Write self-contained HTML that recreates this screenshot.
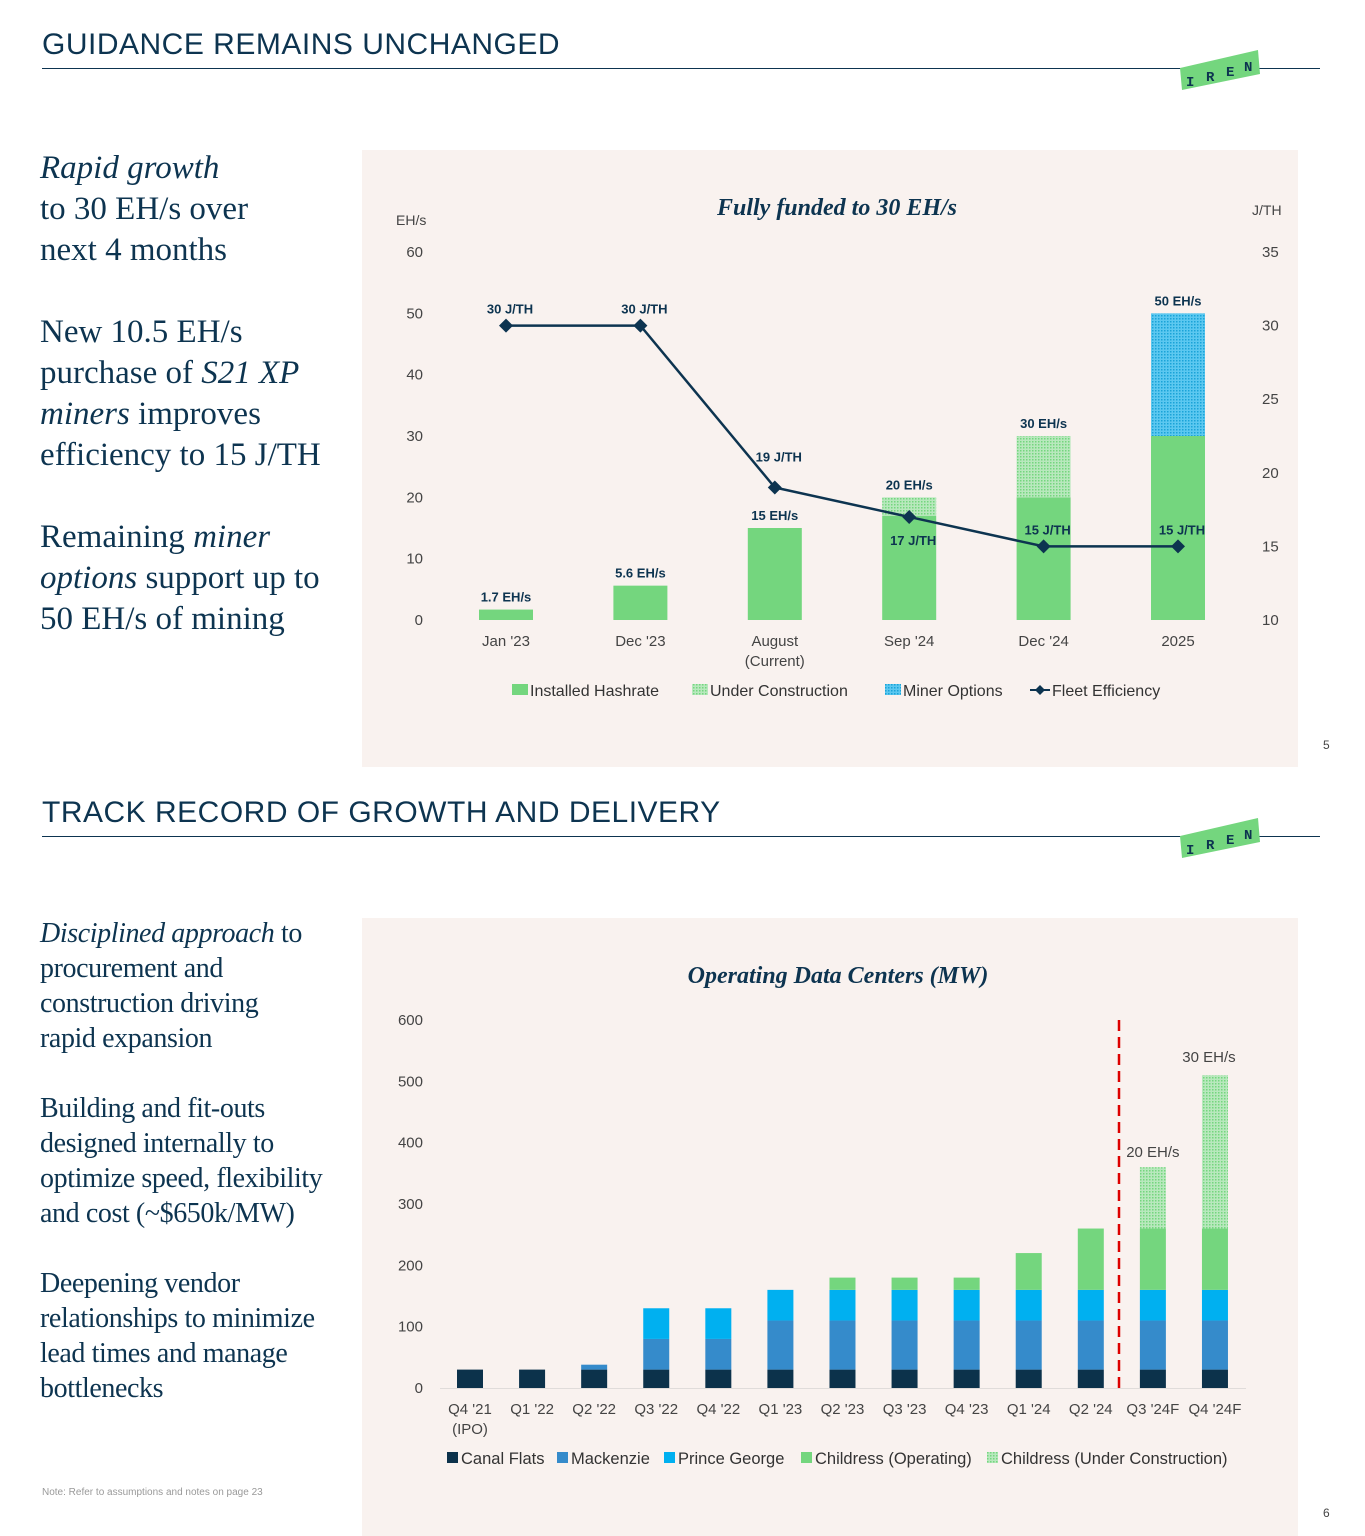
<!DOCTYPE html>
<html><head><meta charset="utf-8"><style>
body{margin:0;width:1365px;height:1536px;background:#fff;position:relative;overflow:hidden;font-family:"Liberation Sans",sans-serif}
.t{position:absolute;left:42px;font-size:30px;color:#0d3450;letter-spacing:0.5px}
.rule{position:absolute;left:42px;width:1278px;height:1px;background:#0d3450}
.panel{position:absolute;left:362px;width:936px;background:#f9f2ef}
.side{position:absolute;left:40px;font-family:"Liberation Serif",serif;color:#0d3450}
.pg{position:absolute;left:1323px;font-size:12px;color:#444}
</style></head><body>
<div class="t" style="top:28px">GUIDANCE REMAINS UNCHANGED</div>
<div class="rule" style="top:68px"></div>
<svg style="position:absolute;left:1178px;top:48px" width="84" height="44"><polygon points="2,20 80,2 82,26 4,42" fill="#74d67e"/><text x="8" y="38" font-size="14" font-weight="bold" fill="#0d3450" font-family="Liberation Mono">I</text><text x="28" y="33" font-size="14" font-weight="bold" fill="#0d3450" font-family="Liberation Mono">R</text><text x="48" y="28" font-size="14" font-weight="bold" fill="#0d3450" font-family="Liberation Mono">E</text><text x="66" y="23" font-size="14" font-weight="bold" fill="#0d3450" font-family="Liberation Mono">N</text></svg>
<div class="side" style="top:148px;font-size:33px;line-height:41px;width:320px">
<i>Rapid growth</i><br>to 30 EH/s over<br>next 4 months<br><br style="line-height:30px">New 10.5 EH/s<br>purchase of <i>S21 XP miners</i> improves efficiency to 15 J/TH<br><br style="line-height:30px">Remaining <i>miner options</i> support up to 50 EH/s of mining</div>
<div class="panel" style="top:150px;height:617px"></div>
<svg id="c1" style="position:absolute;left:0;top:0" width="1365" height="770"></svg>
<div class="pg" style="top:738px">5</div>

<div class="t" style="top:796px">TRACK RECORD OF GROWTH AND DELIVERY</div>
<div class="rule" style="top:836px"></div>
<svg style="position:absolute;left:1178px;top:816px" width="84" height="44"><polygon points="2,20 80,2 82,26 4,42" fill="#74d67e"/><text x="8" y="38" font-size="14" font-weight="bold" fill="#0d3450" font-family="Liberation Mono">I</text><text x="28" y="33" font-size="14" font-weight="bold" fill="#0d3450" font-family="Liberation Mono">R</text><text x="48" y="28" font-size="14" font-weight="bold" fill="#0d3450" font-family="Liberation Mono">E</text><text x="66" y="23" font-size="14" font-weight="bold" fill="#0d3450" font-family="Liberation Mono">N</text></svg>
<div class="side" style="top:916px;font-size:28px;line-height:35px;white-space:nowrap;letter-spacing:-0.4px">
<i>Disciplined approach</i> to<br>procurement and<br>construction driving<br>rapid expansion<br><br style="line-height:35px">Building and fit-outs<br>designed internally to<br>optimize speed, flexibility<br>and cost (~$650k/MW)<br><br style="line-height:35px">Deepening vendor<br>relationships to minimize<br>lead times and manage<br>bottlenecks</div>
<div style="position:absolute;left:42px;top:1487px;font-size:10px;color:#999">Note: Refer to assumptions and notes on page 23</div>
<div class="panel" style="top:918px;height:618px"></div>
<svg id="c2" style="position:absolute;left:0;top:0" width="1365" height="1536"></svg>
<div class="pg" style="top:1506px">6</div>
<script>
const cats1=["Jan '23","Dec '23","August","Sep '24","Dec '24","2025"];
const installed=[1.7,5.6,15,17,20,30];
const underCons=[0,0,0,3,10,0];
const minerOpts=[0,0,0,0,0,20];
const efficiency=[30,30,19,17,15,15];
const totalLabels=["1.7 EH/s","5.6 EH/s","15 EH/s","20 EH/s","30 EH/s","50 EH/s"];
const yTicks1=[0,10,20,30,40,50,60];
const y2Ticks=[10,15,20,25,30,35];

const cats2=["Q4 '21","Q1 '22","Q2 '22","Q3 '22","Q4 '22","Q1 '23","Q2 '23","Q3 '23","Q4 '23","Q1 '24","Q2 '24","Q3 '24F","Q4 '24F"];
const canal=[30,30,30,30,30,30,30,30,30,30,30,30,30];
const mackenzie=[0,0,8,50,50,80,80,80,80,80,80,80,80];
const princeGeorge=[0,0,0,50,50,50,50,50,50,50,50,50,50];
const childOp=[0,0,0,0,0,0,20,20,20,60,100,100,100];
const childUC=[0,0,0,0,0,0,0,0,0,0,0,100,250];
const yTicks2=[0,100,200,300,400,500,600];

const NS="http://www.w3.org/2000/svg";
function el(svg,tag,attrs,txt){const e=document.createElementNS(NS,tag);for(const k in attrs)e.setAttribute(k,attrs[k]);if(txt!==undefined)e.textContent=txt;svg.appendChild(e);return e;}
const defs=`<defs><pattern id="hg" width="3" height="3" patternUnits="userSpaceOnUse"><rect width="3" height="3" fill="#b8e8bd"/><rect width="1.5" height="1.5" fill="#74d67e"/></pattern><pattern id="hb" width="3" height="3" patternUnits="userSpaceOnUse"><rect width="3" height="3" fill="#5cc8f0"/><rect width="1.5" height="1.5" fill="#1aa3d8"/></pattern></defs>`;
// chart1
const s1=document.getElementById('c1');s1.innerHTML=defs;
const y1=v=>620-v*368/60, y2=v=>620-(v-10)*368/25, x1=i=>506+i*134.4;
el(s1,'text',{x:837,y:215,'text-anchor':'middle','font-size':24,'font-style':'italic','font-weight':'bold','font-family':'Liberation Serif',fill:'#0d3450'},'Fully funded to 30 EH/s');
el(s1,'text',{x:396,y:225,'font-size':14,fill:'#444'},'EH/s');
el(s1,'text',{x:1252,y:215,'font-size':14,fill:'#444'},'J/TH');
yTicks1.forEach(v=>{const t=el(s1,'text',{x:423,y:y1(v)+5,'text-anchor':'end','font-size':15,fill:'#444'},v);});
y2Ticks.forEach(v=>{const t=el(s1,'text',{x:1262,y:y2(v)+5,'font-size':15,fill:'#444'},v);});
cats1.forEach((c,i)=>{const x=x1(i),w=54;
 const r1=el(s1,'rect',{x:x-w/2,y:y1(installed[i]),width:w,height:y1(0)-y1(installed[i]),fill:'#74d67e'});
 if(underCons[i]){const r=el(s1,'rect',{x:x-w/2,y:y1(installed[i]+underCons[i]),width:w,height:y1(installed[i])-y1(installed[i]+underCons[i]),fill:'url(#hg)'});}
 if(minerOpts[i]){const b=installed[i]+underCons[i];const r=el(s1,'rect',{x:x-w/2,y:y1(b+minerOpts[i]),width:w,height:y1(b)-y1(b+minerOpts[i]),fill:'url(#hb)'});}
 const tot=installed[i]+underCons[i]+minerOpts[i];
 el(s1,'text',{x:x,y:y1(tot)-8,'text-anchor':'middle','font-size':13,'font-weight':'bold',fill:'#0d3450'},totalLabels[i]);
 el(s1,'text',{x:x,y:646,'text-anchor':'middle','font-size':15,fill:'#444'},c);
 if(i==2)el(s1,'text',{x:x,y:666,'text-anchor':'middle','font-size':15,fill:'#444'},'(Current)');
});
let d='';efficiency.forEach((v,i)=>{d+=(i?'L':'M')+x1(i)+','+y2(v);});
const ln=el(s1,'path',{d:d,fill:'none',stroke:'#0d3450','stroke-width':2.5});
efficiency.forEach((v,i)=>{const x=x1(i),y=y2(v);const p=el(s1,'polygon',{points:`${x},${y-7} ${x+7},${y} ${x},${y+7} ${x-7},${y}`,fill:'#0d3450'});
 let ly=y-12; if(i==2)ly=y-26; if(i==3)ly=y+28;
 el(s1,'text',{x:x+4,y:ly,'text-anchor':'middle','font-size':13,'font-weight':'bold',fill:'#0d3450'},v+' J/TH');});
const lg1=[['Installed Hashrate','#74d67e',512],['Under Construction','url(#hg)',692],['Miner Options','url(#hb)',885]];
lg1.forEach(l=>{el(s1,'rect',{x:l[2],y:684,width:16,height:11,fill:l[1]});const t=el(s1,'text',{x:l[2]+18,y:696,'font-size':16,fill:'#333'},l[0]);});
el(s1,'line',{x1:1030,x2:1050,y1:690,y2:690,stroke:'#0d3450','stroke-width':2});el(s1,'polygon',{points:'1040,685 1045,690 1040,695 1035,690',fill:'#0d3450'});
el(s1,'text',{x:1052,y:696,'font-size':16,fill:'#333'},'Fleet Efficiency');
// chart2
const s2=document.getElementById('c2');s2.innerHTML=defs;
const yb=v=>1388-v*368/600, x2=i=>470+i*62.08;
el(s2,'text',{x:838,y:983,'text-anchor':'middle','font-size':24,'font-style':'italic','font-weight':'bold','font-family':'Liberation Serif',fill:'#0d3450'},'Operating Data Centers (MW)');
yTicks2.forEach(v=>{const t=el(s2,'text',{x:423,y:yb(v)+5,'text-anchor':'end','font-size':15,fill:'#444'},v);});
el(s2,'line',{x1:440,x2:1246,y1:1388.5,y2:1388.5,stroke:'#e0dcda'});
const series=[[canal,'#0c324b'],[mackenzie,'#358bcb'],[princeGeorge,'#00b0f0'],[childOp,'#74d67e'],[childUC,'url(#hg)']];
cats2.forEach((c,i)=>{let base=0;const x=x2(i);
 series.forEach(s=>{const v=s[0][i];if(v>0){const r=el(s2,'rect',{x:x-13,y:yb(base+v),width:26,height:yb(base)-yb(base+v),fill:s[1]});}base+=v;});
 el(s2,'text',{x:x,y:1414,'text-anchor':'middle','font-size':15,fill:'#444'},c);
 if(i==0)el(s2,'text',{x:x,y:1434,'text-anchor':'middle','font-size':15,fill:'#444'},'(IPO)');
});
el(s2,'line',{x1:1119,x2:1119,y1:1020,y2:1388,stroke:'#d00','stroke-width':2.5,'stroke-dasharray':'11,6'});
el(s2,'text',{x:x2(11),y:1157,'text-anchor':'middle','font-size':15,fill:'#444'},'20 EH/s');
el(s2,'text',{x:x2(12)-6,y:1062,'text-anchor':'middle','font-size':15,fill:'#444'},'30 EH/s');
const lg2=[['Canal Flats','#0c324b',447],['Mackenzie','#358bcb',557],['Prince George','#00b0f0',664],['Childress (Operating)','#74d67e',801],['Childress (Under Construction)','url(#hg)',987]];
lg2.forEach(l=>{el(s2,'rect',{x:l[2],y:1452,width:11,height:11,fill:l[1]});const t=el(s2,'text',{x:l[2]+14,y:1464,'font-size':16.5,fill:'#333'},l[0]);});
</script>
</body></html>
